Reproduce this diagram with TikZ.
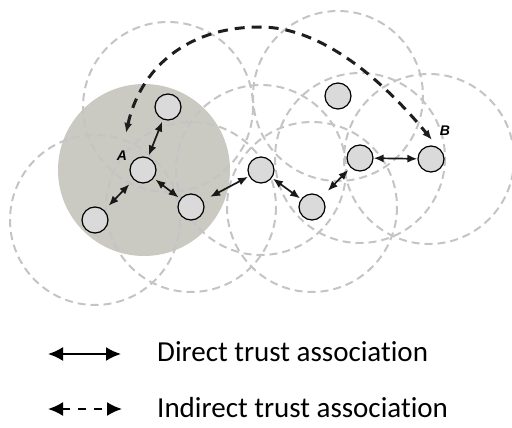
\documentclass[tikz,border=0pt]{standalone}
\usepackage{fontspec}
\setmainfont{Carlito}[Ligatures=NoCommon]
\newfontfamily\lblfont{Liberation Sans}
\usetikzlibrary{arrows.meta}
\definecolor{rangegray}{RGB}{196,196,196}
\definecolor{shadefill}{RGB}{202,201,194}
\definecolor{nodefill}{RGB}{218,218,218}
\definecolor{arcblack}{RGB}{30,30,30}
\tikzset{
  peer/.style={circle, draw=black, line width=1.2pt, fill=nodefill, minimum size=26pt, inner sep=0pt},
  rangecircle/.style={draw=rangegray, line width=2pt, dash pattern=on 8pt off 5pt},
  direct/.style={{Latex[length=10pt,width=8pt]}-{Latex[length=10pt,width=8pt]}, line width=1.7pt, black!90},
  indirect/.style={{Latex[length=10pt,width=8pt]}-{Latex[length=10pt,width=8pt]}, line width=3pt, arcblack, dash pattern=on 10pt off 7pt},
  lbl/.style={font=\lblfont\bfseries\itshape\fontsize{14}{16}\selectfont, inner sep=0pt},
  legendtext/.style={font=\fontsize{29}{33}\selectfont, anchor=west, inner sep=0pt},
  legarrow/.style={line width=2pt, black, {Latex[length=15pt,width=14pt]}-{Latex[length=15pt,width=14pt]}}
}
\begin{document}
\begin{tikzpicture}[x=1pt,y=-1pt]
\useasboundingbox (0,0) rectangle (512,428);
% shaded range of A
\fill[shadefill] (144,170) circle (86);
% ranges of the other peers
\foreach \cx/\cy in {168/107, 95/220, 191/207, 261/170, 312/207, 360/158, 429/159, 338/96}
  \draw[rangecircle] (\cx,\cy) circle (85);
% peers
\node[peer] (n1) at (168,107) {};
\node[peer] (a) at (143,170) {};
\node[peer] (bl) at (95,220) {};
\node[peer] (n2) at (191,207) {};
\node[peer] (n3) at (261,170) {};
\node[peer] (n4) at (312,207) {};
\node[peer] (n5) at (360,158) {};
\node[peer] (b) at (431,159) {};
\node[peer] (iso) at (338,96) {};
% labels
\node[lbl] (la) at (122,156) {A};
\node[lbl] (lb) at (445,131) {B};
% direct trust
\draw[direct, shorten <=2pt, shorten >=2pt] (n1) -- (a);
\draw[direct, shorten <=6pt, shorten >=6pt] (a) -- (bl);
\draw[direct, shorten <=2pt, shorten >=2pt] (a) -- (n2);
\draw[direct, shorten <=8pt, shorten >=1pt] (n2) -- (n3);
\draw[direct, shorten <=1pt, shorten >=1pt] (n3) -- (n4);
\draw[direct, shorten <=9pt, shorten >=3pt] (n4) -- (n5);
\draw[direct] (n5) -- (b);
% indirect trust
\coordinate (ta) at (126,133);
\coordinate (tb) at (432,140);
\coordinate (peak) at (260,27);
\draw[indirect] (ta) .. controls (140,70) and (185,27) .. (peak)
  .. controls (330,27) and (395,95) .. (tb);
% legend
\coordinate (l1a) at (48,354);
\coordinate (l1b) at (121,354);
\coordinate (l2a) at (48,409);
\coordinate (l2b) at (122,409);
\draw[legarrow] (l1a) -- (l1b);
\draw[legarrow, dash pattern=on 8pt off 8pt] (l2a) -- (l2b);
\node[legendtext] (t1) at (157,352) {Direct trust association};
\node[legendtext] (t2) at (157,408) {Indirect trust association};
\end{tikzpicture}
\end{document}
